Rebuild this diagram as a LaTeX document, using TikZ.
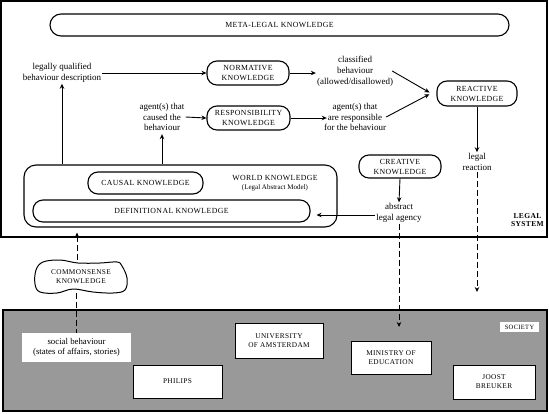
\documentclass[tikz,border=0pt]{standalone}
\usepackage{fontspec}
\setmainfont{Liberation Serif}
\newfontfamily\capf{Liberation Serif}[LetterSpace=5]
\usetikzlibrary{arrows.meta}
\definecolor{socgray}{RGB}{153,153,153}
\tikzset{
  kbox/.style={draw, line width=1.1pt, rounded corners=10pt, align=center,
    font=\capf\fontsize{7.8}{10}\selectfont, inner sep=0pt},
  txt/.style={align=center, font=\fontsize{9}{10.8}\selectfont, inner sep=1pt},
  arr/.style={-{Stealth[length=5pt,width=4.5pt]}, line width=0.9pt},
  darr/.style={arr, dash pattern=on 6pt off 3pt},
  dline/.style={line width=0.9pt, dash pattern=on 6pt off 3pt},
  orgbox/.style={draw, fill=white, line width=1pt, align=center, inner sep=0pt,
    font=\capf\fontsize{7.3}{9}\selectfont},
  frame/.style={draw, line width=1.1pt, inner sep=0pt}
}
\begin{document}
\begin{tikzpicture}[x=1pt,y=-1pt]
\useasboundingbox (0,0) rectangle (549,413);
% legal system frame
\node[frame, minimum width=546, minimum height=236] (legal) at (274,119) {};
\node[anchor=east, align=center, font=\capf\bfseries\fontsize{7.5}{8.5}\selectfont, inner sep=0pt] (legallbl) at (544,220) {LEGAL\\SYSTEM};
% society
\node[frame, fill=socgray, minimum width=544, minimum height=101] (society) at (275,360.5) {};
\node[fill=white, minimum width=39, minimum height=10, inner sep=0pt, font=\capf\fontsize{6.5}{8}\selectfont] (soclbl) at (519.5,327) {SOCIETY};

% meta-legal
\node[kbox, rounded corners=11pt, minimum width=459, minimum height=22] (meta) at (279.5,25) {META-LEGAL KNOWLEDGE};

% texts
\node[txt] (legqual) at (62,73) {legally qualified\\behaviour description};
\node[kbox, minimum width=82, minimum height=24] (norm) at (248,73) {NORMATIVE\\KNOWLEDGE};
\node[kbox, minimum width=83, minimum height=24] (resp) at (248.5,118) {RESPONSIBILITY\\KNOWLEDGE};
\node[txt] (agent1) at (162,117) {agent(s) that\\caused the\\behaviour};
\node[txt] (classified) at (355,71) {classified\\behaviour\\(allowed/disallowed)};
\node[txt] (agent2) at (355,117) {agent(s) that\\are responsible\\for the behaviour};
\node[kbox, minimum width=80, minimum height=25] (react) at (477,93.5) {REACTIVE\\KNOWLEDGE};
\node[txt] (reaction) at (477,162) {legal\\reaction};
\node[kbox, minimum width=82, minimum height=23] (creative) at (400,166.5) {CREATIVE\\KNOWLEDGE};
\node[txt] (agency) at (399,213) {abstract\\legal\ agency};

% world knowledge
\node[frame, rounded corners=12pt, minimum width=313, minimum height=62] (world) at (180.5,196) {};
\node[kbox, minimum width=115, minimum height=22] (causal) at (145.5,183) {CAUSAL KNOWLEDGE};
\node[kbox, minimum width=277, minimum height=22] (defin) at (171.5,211) {DEFINITIONAL KNOWLEDGE};
\node[align=center, inner sep=0pt, font=\capf\fontsize{7.8}{9.5}\selectfont] (worldlbl) at (275,183)
  {WORLD KNOWLEDGE\\{\rmfamily\fontsize{7}{9}\selectfont(Legal Abstract Model)}};

% commonsense cloud
\draw[line width=1pt, fill=white] plot[smooth cycle, tension=0.6] coordinates {
  (36,270) (35,284) (40,292) (57,293) (73,289) (93,292) (113,293) (125,290)
  (127,278) (122,266) (117,262) (100,263) (78,263) (60,260) (43,262)};
\node[minimum width=92, minimum height=33, inner sep=0pt, align=center,
  font=\capf\fontsize{7.3}{9}\selectfont] (cloud) at (81,276.5) {COMMONSENSE\\KNOWLEDGE};

% society members
\node[fill=white, minimum width=109, minimum height=29, inner sep=0pt, align=center,
  font=\fontsize{8.8}{10.5}\selectfont] (social) at (76.5,347.5) {social behaviour\\(states of affairs, stories)};
\node[orgbox, minimum width=89, minimum height=33] (philips) at (177.5,381.5) {PHILIPS};
\node[orgbox, minimum width=88, minimum height=35] (uva) at (279,340.5) {UNIVERSITY\\OF AMSTERDAM};
\node[orgbox, minimum width=80, minimum height=33] (minis) at (391,357.5) {MINISTRY OF\\EDUCATION};
\node[orgbox, minimum width=82, minimum height=34] (joost) at (494,382) {JOOST\\BREUKER};

% free ends
\coordinate (reactend) at (477,292);
\coordinate (agencyend) at (399,327);

% connectors
\draw[arr] (legqual.east) -- (norm.west);
\draw[arr] (world.north -| legqual.south) -- (legqual.south);
\draw[arr] (world.north -| agent1.south) -- ([yshift=-2pt]agent1.south);
\draw[arr] (agent1.east) -- (resp.west);
\draw[arr] (norm.east) -- (norm.east -| classified.west);
\draw[arr] (resp.east) -- ([xshift=4pt]resp.east -| agent2.west);
\draw[arr, shorten >=8pt] ([xshift=-2pt]classified.east) -- ([yshift=-3pt]react.west);
\draw[arr, shorten >=8pt] ([xshift=-1pt]agent2.east) -- ([yshift=3pt]react.west);
\draw[arr] (react.south) -- (reaction.north);
\draw[darr] (reaction.south) -- (reactend);
\draw[arr] (creative.south) -- (agency.north);
\draw[arr, shorten >=6pt] ([yshift=-2pt]agency.west) -- ([yshift=-2pt]agency.west -| defin.east);
\draw[darr] (agency.south) -- (agencyend);
\draw[darr, shorten >=5pt] ([xshift=-4pt]cloud.north) -- ([xshift=-4pt]cloud.north |- world.south);
\draw[dline] ([xshift=-5pt]cloud.south) -- ([xshift=-5pt]cloud.south |- social.north);
\end{tikzpicture}
\end{document}
